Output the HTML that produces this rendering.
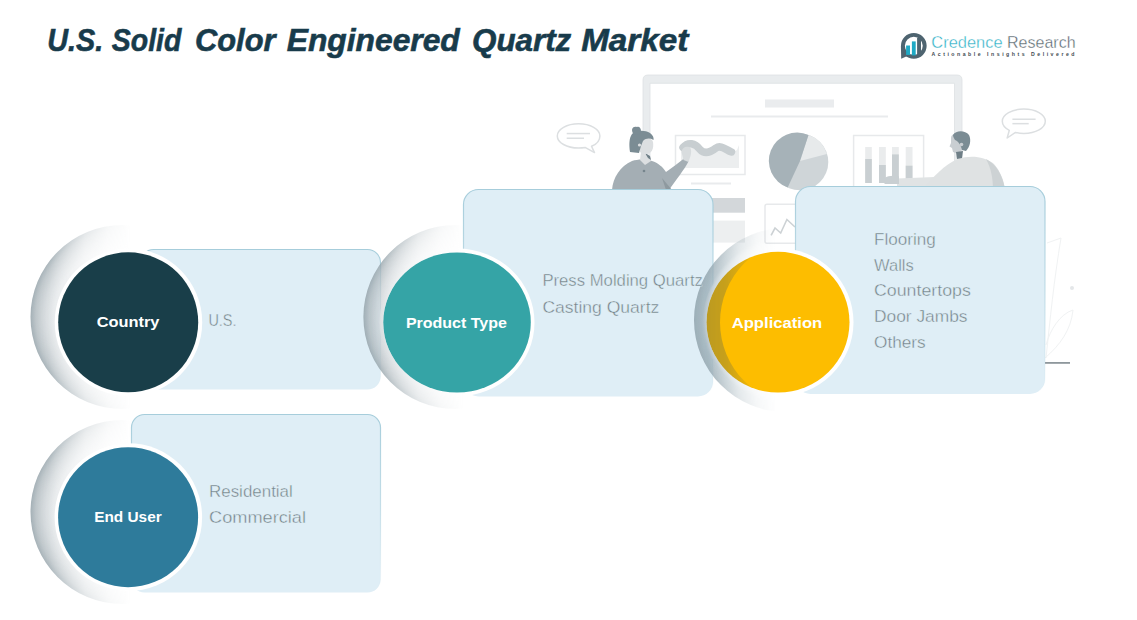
<!DOCTYPE html>
<html><head><meta charset="utf-8">
<style>
html,body{margin:0;padding:0;background:#fff;}
body{width:1137px;height:620px;overflow:hidden;position:relative;font-family:"Liberation Sans",sans-serif;}
svg{position:absolute;left:0;top:0;display:block;}
</style></head>
<body>
<svg width="1137" height="620" viewBox="0 0 1137 620">
<defs>
  <radialGradient id="g1" gradientUnits="userSpaceOnUse" cx="122.5" cy="317" r="92">
    <stop offset="0.75" stop-color="#d8dde0" stop-opacity="0.7"/>
    <stop offset="0.85" stop-color="#c6cdd1" stop-opacity="0.78"/>
    <stop offset="0.94" stop-color="#aeb8bd" stop-opacity="0.82"/>
    <stop offset="1" stop-color="#95a3aa" stop-opacity="0.86"/>
  </radialGradient>
  <linearGradient id="g1m" gradientUnits="userSpaceOnUse" x1="30.5" y1="0" x2="214.5" y2="0">
    <stop offset="0" stop-color="#fff"/>
    <stop offset="0.1" stop-color="#fff" stop-opacity="0.92"/>
    <stop offset="0.2" stop-color="#fff" stop-opacity="0.6"/>
    <stop offset="0.3" stop-color="#fff" stop-opacity="0.3"/>
    <stop offset="0.42" stop-color="#fff" stop-opacity="0.1"/>
    <stop offset="0.55" stop-color="#fff" stop-opacity="0"/>
  </linearGradient>
  <mask id="g1k" maskUnits="userSpaceOnUse" x="0" y="0" width="1137" height="620"><rect x="0" y="0" width="1137" height="620" fill="url(#g1m)"/></mask>
  <radialGradient id="g2" gradientUnits="userSpaceOnUse" cx="455.4" cy="317" r="92">
    <stop offset="0.75" stop-color="#d8dde0" stop-opacity="0.7"/>
    <stop offset="0.85" stop-color="#c6cdd1" stop-opacity="0.78"/>
    <stop offset="0.94" stop-color="#aeb8bd" stop-opacity="0.82"/>
    <stop offset="1" stop-color="#95a3aa" stop-opacity="0.86"/>
  </radialGradient>
  <linearGradient id="g2m" gradientUnits="userSpaceOnUse" x1="363.4" y1="0" x2="547.4" y2="0">
    <stop offset="0" stop-color="#fff"/>
    <stop offset="0.1" stop-color="#fff" stop-opacity="0.92"/>
    <stop offset="0.2" stop-color="#fff" stop-opacity="0.6"/>
    <stop offset="0.3" stop-color="#fff" stop-opacity="0.3"/>
    <stop offset="0.42" stop-color="#fff" stop-opacity="0.1"/>
    <stop offset="0.55" stop-color="#fff" stop-opacity="0"/>
  </linearGradient>
  <mask id="g2k" maskUnits="userSpaceOnUse" x="0" y="0" width="1137" height="620"><rect x="0" y="0" width="1137" height="620" fill="url(#g2m)"/></mask>
  <radialGradient id="g3" gradientUnits="userSpaceOnUse" cx="786" cy="320" r="92">
    <stop offset="0.8" stop-color="#c4cfd4" stop-opacity="0.8"/>
    <stop offset="0.86" stop-color="#b3c2c9" stop-opacity="0.85"/>
    <stop offset="0.9" stop-color="#9fb2bb" stop-opacity="0.9"/>
    <stop offset="1" stop-color="#96a8b1" stop-opacity="0.92"/>
  </radialGradient>
  <linearGradient id="g3m" gradientUnits="userSpaceOnUse" x1="694" y1="0" x2="844" y2="0">
    <stop offset="0" stop-color="#fff"/>
    <stop offset="0.1" stop-color="#fff" stop-opacity="0.92"/>
    <stop offset="0.2" stop-color="#fff" stop-opacity="0.6"/>
    <stop offset="0.3" stop-color="#fff" stop-opacity="0.3"/>
    <stop offset="0.42" stop-color="#fff" stop-opacity="0.1"/>
    <stop offset="0.55" stop-color="#fff" stop-opacity="0"/>
  </linearGradient>
  <mask id="g3k" maskUnits="userSpaceOnUse" x="0" y="0" width="1137" height="620"><rect x="0" y="0" width="1137" height="620" fill="url(#g3m)"/></mask>
  <radialGradient id="g4" gradientUnits="userSpaceOnUse" cx="122.5" cy="512" r="92">
    <stop offset="0.75" stop-color="#d8dde0" stop-opacity="0.7"/>
    <stop offset="0.85" stop-color="#c6cdd1" stop-opacity="0.78"/>
    <stop offset="0.94" stop-color="#aeb8bd" stop-opacity="0.82"/>
    <stop offset="1" stop-color="#95a3aa" stop-opacity="0.86"/>
  </radialGradient>
  <linearGradient id="g4m" gradientUnits="userSpaceOnUse" x1="30.5" y1="0" x2="214.5" y2="0">
    <stop offset="0" stop-color="#fff"/>
    <stop offset="0.1" stop-color="#fff" stop-opacity="0.92"/>
    <stop offset="0.2" stop-color="#fff" stop-opacity="0.6"/>
    <stop offset="0.3" stop-color="#fff" stop-opacity="0.3"/>
    <stop offset="0.42" stop-color="#fff" stop-opacity="0.1"/>
    <stop offset="0.55" stop-color="#fff" stop-opacity="0"/>
  </linearGradient>
  <mask id="g4k" maskUnits="userSpaceOnUse" x="0" y="0" width="1137" height="620"><rect x="0" y="0" width="1137" height="620" fill="url(#g4m)"/></mask>
  <linearGradient id="bs1" gradientUnits="userSpaceOnUse" x1="0" y1="249.5" x2="0" y2="389.5">
    <stop offset="0" stop-color="#a6cddb" stop-opacity="1"/>
    <stop offset="0.5" stop-color="#a6cddb" stop-opacity="0.6"/>
    <stop offset="1" stop-color="#a6cddb" stop-opacity="0"/>
  </linearGradient>
  <linearGradient id="bs2" gradientUnits="userSpaceOnUse" x1="0" y1="189.5" x2="0" y2="396.5">
    <stop offset="0" stop-color="#a6cddb" stop-opacity="1"/>
    <stop offset="0.5" stop-color="#a6cddb" stop-opacity="0.6"/>
    <stop offset="1" stop-color="#a6cddb" stop-opacity="0"/>
  </linearGradient>
  <linearGradient id="bs3" gradientUnits="userSpaceOnUse" x1="0" y1="186.5" x2="0" y2="393.0">
    <stop offset="0" stop-color="#a6cddb" stop-opacity="1"/>
    <stop offset="0.5" stop-color="#a6cddb" stop-opacity="0.6"/>
    <stop offset="1" stop-color="#a6cddb" stop-opacity="0"/>
  </linearGradient>
  <linearGradient id="bs4" gradientUnits="userSpaceOnUse" x1="0" y1="414.5" x2="0" y2="592.5">
    <stop offset="0" stop-color="#a6cddb" stop-opacity="1"/>
    <stop offset="0.5" stop-color="#a6cddb" stop-opacity="0.6"/>
    <stop offset="1" stop-color="#a6cddb" stop-opacity="0"/>
  </linearGradient>
  <linearGradient id="crm" gradientUnits="userSpaceOnUse" x1="704" y1="0" x2="760" y2="0">
    <stop offset="0" stop-color="#fff"/><stop offset="0.4" stop-color="#fff" stop-opacity="0.8"/><stop offset="1" stop-color="#fff" stop-opacity="0"/>
  </linearGradient>
  <mask id="crk" maskUnits="userSpaceOnUse" x="0" y="0" width="1137" height="620"><rect x="0" y="0" width="1137" height="620" fill="url(#crm)"/></mask>
  <mask id="bm1" maskUnits="userSpaceOnUse" x="0" y="0" width="1137" height="620"><rect x="0" y="0" width="1137" height="620" fill="#fff"/><rect x="140.5" y="249.5" width="240" height="140" rx="13" fill="#000"/></mask>
  <mask id="bm2" maskUnits="userSpaceOnUse" x="0" y="0" width="1137" height="620"><rect x="0" y="0" width="1137" height="620" fill="#fff"/><rect x="463.5" y="189.5" width="249.5" height="207" rx="15" fill="#000"/></mask>
  <mask id="bm3" maskUnits="userSpaceOnUse" x="0" y="0" width="1137" height="620"><rect x="0" y="0" width="1137" height="620" fill="#fff"/><rect x="795.5" y="186.5" width="249.5" height="207.5" rx="15" fill="#000"/></mask>
  <mask id="bm4" maskUnits="userSpaceOnUse" x="0" y="0" width="1137" height="620"><rect x="0" y="0" width="1137" height="620" fill="#fff"/><rect x="131.5" y="414.5" width="249" height="178" rx="13" fill="#000"/></mask>
</defs>

<!-- ============ ILLUSTRATION ============ -->
<g id="illus">
  <!-- monitor frame -->
  <path d="M643,190 V80 Q643,75 648,75 H957 Q962,75 962,80 V190 H954.5 V83.3 H650 V190 Z" fill="#e9ecee" stroke="#dde1e3" stroke-width="0.8"/>
  <!-- top bar and line -->
  <rect x="765" y="99.5" width="69" height="8" fill="#eaecee"/>
  <rect x="711" y="115.5" width="177" height="2" fill="#e9ebed"/>
  <!-- wave chart box -->
  <rect x="675.5" y="135.5" width="69.5" height="39" fill="none" stroke="#e7e9eb" stroke-width="1.5"/>
  <path d="M681,150 C686,143 694,142 700,148 C706,154 712,148 717,146 C722,145 726,152 732,153 L737,150 L739,145 V168 H681 Z" fill="#eceeef"/>
  <path d="M683,147.5 C688,141.5 695,143 700,149.5 C705,155 711,152 716,148 C721,144.5 726,150 731.5,152" fill="none" stroke="#c8ced1" stroke-width="7.5" stroke-linecap="round"/>
  <rect x="691" y="182.5" width="40" height="2" fill="#e9ebed"/>
  <!-- pie -->
  <circle cx="800" cy="162" r="28.3" fill="#cfd5d8"/>
  <path d="M800,161 L808.5,134.9 A28.3,28.3 0 0 1 826.9,154 Z" fill="#e7eaeb"/>
  <path d="M800,161 L808.5,134.9 A28.3,28.3 0 1 0 787.7,187.5 Z" fill="#a6b2b8"/>
  <!-- bar chart box -->
  <rect x="853.6" y="135.5" width="70" height="52" fill="none" stroke="#e7e9eb" stroke-width="1.5"/>
  <rect x="865.2" y="147" width="6.6" height="36" fill="#eaeced"/><rect x="865.2" y="159" width="6.6" height="24" fill="#c9cfd2"/>
  <rect x="879" y="147" width="6.8" height="36" fill="#eaeced"/><rect x="879" y="165" width="6.8" height="18" fill="#c9cfd2"/>
  <rect x="892" y="147" width="6.8" height="36" fill="#eaeced"/><rect x="892" y="154.4" width="6.8" height="28.6" fill="#c9cfd2"/>
  <rect x="905.7" y="147" width="6.8" height="36" fill="#eaeced"/><rect x="905.7" y="165.7" width="6.8" height="17.3" fill="#c9cfd2"/>
  <!-- lower monitor rects -->
  <rect x="690" y="198" width="55" height="14.7" fill="#d3d7da"/>
  <rect x="690" y="220.6" width="55" height="22" fill="#edeff0"/>
  <rect x="765" y="204.3" width="40" height="39" fill="none" stroke="#e7e9eb" stroke-width="1.5" rx="2"/>
  <path d="M771.1,235.3 L775,228 L780.7,233 L786.9,219.5 L795,227" fill="none" stroke="#cdd2d5" stroke-width="1.6"/>
  <!-- speech bubble left -->
  <path d="M578.6,123.7 C590.4,123.7 599.9,129.2 599.9,135.9 C599.9,140.5 596,144.4 591.5,146.3 L594.5,152.6 L585.5,147.6 C583.3,147.9 581,148.1 578.6,148.1 C566.8,148.1 557.3,142.6 557.3,135.9 C557.3,129.2 566.8,123.7 578.6,123.7 Z" fill="none" stroke="#dcdfe1" stroke-width="1.5" stroke-linejoin="round"/>
  <rect x="566.7" y="132.8" width="23.3" height="1.5" fill="#dcdfe1"/>
  <rect x="566.7" y="137.5" width="17.3" height="1.5" fill="#dcdfe1"/>
  <!-- speech bubble right -->
  <path d="M1023.8,109 C1035.7,109 1045.3,114.5 1045.3,121.2 C1045.3,127.9 1035.7,133.4 1023.8,133.4 C1020.8,133.4 1018,133 1015.5,132.4 L1007.2,138 L1009.3,130.3 C1005,128 1002.3,124.8 1002.3,121.2 C1002.3,114.5 1011.9,109 1023.8,109 Z" fill="none" stroke="#dcdfe1" stroke-width="1.5" stroke-linejoin="round"/>
  <rect x="1012.4" y="118.5" width="23.2" height="1.5" fill="#dcdfe1"/>
  <rect x="1012.4" y="122.9" width="16.3" height="1.5" fill="#dcdfe1"/>
  <!-- woman -->
  <path d="M612,190 C613,178 620,166 632,161 C638,159 646,159 652,161 C658,163 663,167 666,172 C672,168 678,163 684,158.5 L688.5,161.5 C684,170 676,180 669,190 Z" fill="#a4aeb4"/>
  <path d="M662,178 L666,190 L672,190 Z" fill="#8e999f"/>
  <path d="M641,152 L649,156 L651,161 L645,165 L640,160 Z" fill="#dcdfe1"/>
  <path d="M645,153 L650,156 L651,160 L648,158 Z" fill="#6f7f87"/>
  <path d="M640,140 C644,137 652,137 653,142 C654,148 652,154 646,154 C643,154 641,153 640,152 Z" fill="#dcdfe1"/>
  <path d="M630,152 C629,145 629,138 632,134 C636,130 645,130 650,133 C653,135 654,138 653.5,140 C650,138 646,138 643,141 L641,146 L639,153 Z" fill="#7b8c94"/>
  <path d="M632,130 C632,127 635,126 637,127 C639,126 641,128 641,131 C641,134 638,135 636,135 C634,135 632,133 632,130 Z" fill="#7b8c94"/>
  <circle cx="639.5" cy="145" r="1.6" fill="#dcdfe1"/>
  <path d="M681.5,152 C682,148 685,146 689,147 C691.5,148 691.5,152 690.5,156 L688.5,162 L683.5,160 Z" fill="#d8dcde"/>
  <circle cx="644" cy="171" r="1.3" fill="#76858d"/>
  <!-- man -->
  <path d="M897,178.5 L935,177 L935,190 L897,190 Z" fill="#e0e3e4"/><path d="M884.5,178 C888,175.5 894,175 899,176.5 L899,184 L884.5,184 Z" fill="#c9cfd2"/>
  <path d="M922,190 C932,178 945,164 958,159 C970,155 984,156 994,164 C1000,171 1004,180 1005,190 Z" fill="#dfe2e3"/>
  <path d="M986,159 C996,164 1003,175 1005,190 L993,190 C993,178 991,168 986,159 Z" fill="#cdd2d4"/>
  <path d="M951,138 C951,135 954,133 957,134 L963,148 C961,153 957,154 953,152 L952,148 L949.5,146.5 L951,143 Z" fill="#c9ced2"/>
  <path d="M953,135 C956,130 965,130 969,135 C971.5,140 970,147 966,151 L962,150 C961,145 958,141 955,140 C954,138 953,137 953,135 Z" fill="#7b8c94"/>
  <circle cx="961.5" cy="144.5" r="1.8" fill="#c9ced2"/>
  <path d="M956,152 L963,151 L962,158 L957,159 Z" fill="#6f7f87"/>
  <!-- plant right -->
  <path d="M1046,358 C1050,320 1054,280 1061,238 L1047,243" fill="none" stroke="#f0f2f3" stroke-width="1"/>
  <path d="M1045,358 C1060,345 1071,330 1073,310 C1060,314 1050,330 1046,345" fill="none" stroke="#f0f2f3" stroke-width="1"/>
  <circle cx="1072" cy="288" r="2" fill="#e4e7e9"/>
  <rect x="1045" y="362" width="25" height="1.8" fill="#8e979c"/>
</g>

<!-- ============ BOXES ============ -->
<g id="boxes" fill="#dfeef6" stroke-width="1.2">
  <rect x="140.5" y="249.5" width="240" height="140" rx="13" stroke="url(#bs1)"/>
  <rect x="463.5" y="189.5" width="249.5" height="207" rx="15" stroke="url(#bs2)"/>
  <rect x="795.5" y="186.5" width="249.5" height="207.5" rx="15" stroke="url(#bs3)"/>
  <rect x="131.5" y="414.5" width="249" height="178" rx="13" stroke="url(#bs4)"/>
</g>

<!-- ============ CIRCLES ============ -->
<!-- Country -->
<circle cx="128.2" cy="322.3" r="74" fill="#ffffff"/>
<circle cx="128.2" cy="322.3" r="70" fill="#193e49"/>
<g mask="url(#bm1)"><path fill="url(#g1)" mask="url(#g1k)" fill-rule="evenodd" d="M30.5,317 a92,92 0 1,0 184,0 a92,92 0 1,0 -184,0 Z M54.7,322.3 a73.5,73.5 0 1,0 147,0 a73.5,73.5 0 1,0 -147,0 Z"/></g>
<!-- Product -->
<ellipse cx="457" cy="322.5" rx="77.5" ry="74" fill="#ffffff"/>
<ellipse cx="457" cy="322.5" rx="73.8" ry="70.1" fill="#35a4a6"/>
<g mask="url(#bm2)"><path fill="url(#g2)" mask="url(#g2k)" fill-rule="evenodd" d="M363.4,317 a92,92 0 1,0 184,0 a92,92 0 1,0 -184,0 Z M383.2,322.5 a73.8,70.1 0 1,0 147.6,0 a73.8,70.1 0 1,0 -147.6,0 Z"/></g>
<!-- Application -->
<ellipse cx="778" cy="322.2" rx="75.5" ry="74.2" fill="#ffffff"/>
<ellipse cx="778" cy="322.2" rx="71.5" ry="70.4" fill="#fdbd00"/>
<g mask="url(#bm3)"><path fill="url(#g3)" mask="url(#g3k)" fill-rule="evenodd" d="M694,320 a92,92 0 1,0 184,0 a92,92 0 1,0 -184,0 Z M706.5,322.2 a71.5,70.4 0 1,0 143,0 a71.5,70.4 0 1,0 -143,0 Z"/></g>
<clipPath id="ycl"><ellipse cx="778" cy="322.2" rx="71.5" ry="70.4"/></clipPath>
<path clip-path="url(#ycl)" mask="url(#crk)" fill="#3a5560" fill-opacity="0.34" fill-rule="evenodd" d="M690,240 H860 V410 H690 Z M720,322.2 a83.6,83.6 0 1,0 167.2,0 a83.6,83.6 0 1,0 -167.2,0 Z"/>
<!-- End User -->
<circle cx="128.1" cy="517.2" r="74" fill="#ffffff"/>
<circle cx="128.1" cy="517.2" r="70" fill="#2e7b9b"/>
<g mask="url(#bm4)"><path fill="url(#g4)" mask="url(#g4k)" fill-rule="evenodd" d="M30.5,512 a92,92 0 1,0 184,0 a92,92 0 1,0 -184,0 Z M54.6,517.2 a73.5,73.5 0 1,0 147,0 a73.5,73.5 0 1,0 -147,0 Z"/></g>

<!-- ============ TEXT ============ -->
<g font-family="Liberation Sans, sans-serif">
  <g font-size="32" font-weight="bold" font-style="italic" fill="#183b4b" stroke="#183b4b" stroke-width="0.6"><text x="47.2" y="50.8" textLength="56" lengthAdjust="spacingAndGlyphs">U.S.</text><text x="111.8" y="50.8" textLength="69.5" lengthAdjust="spacingAndGlyphs">Solid</text><text x="195" y="50.8" textLength="80.5" lengthAdjust="spacingAndGlyphs">Color</text><text x="286.7" y="50.8" textLength="173.1" lengthAdjust="spacingAndGlyphs">Engineered</text><text x="472" y="50.8" textLength="99.3" lengthAdjust="spacingAndGlyphs">Quartz</text><text x="581.2" y="50.8" textLength="107.1" lengthAdjust="spacingAndGlyphs">Market</text></g>

  <g font-weight="bold" fill="#ffffff" font-size="15">
    <text x="96.7" y="327.4" textLength="62.8" lengthAdjust="spacingAndGlyphs">Country</text>
    <text x="405.9" y="327.7" textLength="101.0" lengthAdjust="spacingAndGlyphs">Product Type</text>
    <text x="731.7" y="327.7" textLength="90.6" lengthAdjust="spacingAndGlyphs">Application</text>
    <text x="94.2" y="522.2" textLength="67.5" lengthAdjust="spacingAndGlyphs">End User</text>
  </g>

  <g fill="#737e84" font-size="16" stroke="#dfeef6" stroke-width="0.4">
    <text x="208.4" y="326.2" textLength="28.1" lengthAdjust="spacingAndGlyphs">U.S.</text>
    <text x="542.4" y="285.9" textLength="160.5" lengthAdjust="spacingAndGlyphs">Press Molding Quartz</text>
    <text x="542.4" y="312.6" textLength="116.9" lengthAdjust="spacingAndGlyphs">Casting Quartz</text>
    <text x="874.0" y="244.5" textLength="61.7" lengthAdjust="spacingAndGlyphs">Flooring</text>
    <text x="874.0" y="270.7" textLength="39.7" lengthAdjust="spacingAndGlyphs">Walls</text>
    <text x="874.0" y="296.3" textLength="96.8" lengthAdjust="spacingAndGlyphs">Countertops</text>
    <text x="874.0" y="321.9" textLength="93.5" lengthAdjust="spacingAndGlyphs">Door Jambs</text>
    <text x="874.0" y="347.7" textLength="51.7" lengthAdjust="spacingAndGlyphs">Others</text>
    <text x="209.0" y="496.6" textLength="83.8" lengthAdjust="spacingAndGlyphs">Residential</text>
    <text x="209.0" y="523" textLength="97.0" lengthAdjust="spacingAndGlyphs">Commercial</text>
  </g>
</g>

<!-- ============ LOGO ============ -->
<g id="logo">
  <circle cx="913.8" cy="45.8" r="10.9" fill="none" stroke="#4e6470" stroke-width="3.9"/>
  <path d="M900.9,46 L904.6,46 L905,51.5 L908.5,55.5 L901.2,58.8 Z" fill="#4e6470"/>
  <rect x="906.1" y="45.5" width="3.9" height="9.4" fill="#1fa9c4"/>
  <rect x="911.9" y="41.4" width="3.8" height="14" fill="#1fa9c4"/>
  <rect x="917.1" y="37.9" width="3.9" height="18" fill="#4e6470"/>
  <text x="931.3" y="47.8" font-size="16.3" fill="#2fb0c6" stroke="#fff" stroke-width="0.35" textLength="71.3" lengthAdjust="spacingAndGlyphs">Credence</text>
  <text x="1007" y="47.8" font-size="16.3" fill="#56656d" stroke="#fff" stroke-width="0.35" textLength="68.6" lengthAdjust="spacingAndGlyphs">Research</text>
  <text x="931.5" y="56.4" font-size="5.2" font-weight="bold" fill="#3e4a50" textLength="143" lengthAdjust="spacing">Actionable Insights Delivered</text>
</g>
</svg>
</body></html>
